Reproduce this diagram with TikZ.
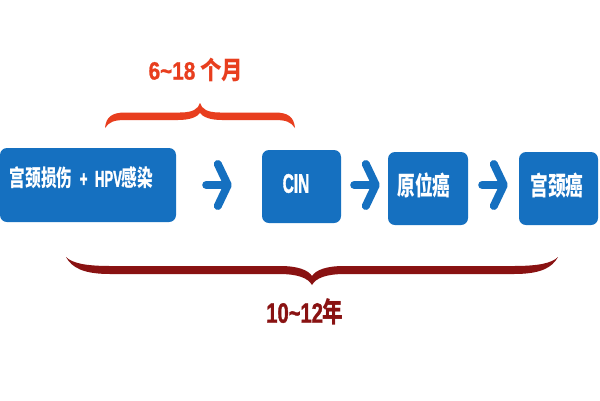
\documentclass[tikz,border=0pt]{standalone}
\usepackage{fontspec}
\usetikzlibrary{arrows.meta}
\newfontfamily\cjkA{Noto Sans CJK SC}[FakeStretch=0.68]
\newfontfamily\latA{Liberation Sans}[FakeStretch=0.57,FakeBold=1.2]
\newfontfamily\cjkR{Noto Sans CJK SC}[FakeStretch=0.86]
\newfontfamily\latR{Liberation Sans}[FakeStretch=0.83,FakeBold=1]
\newfontfamily\cjkD{Noto Sans CJK SC}[FakeStretch=0.74]
\newfontfamily\latD{Liberation Sans}[FakeStretch=0.72,FakeBold=1.2]
\definecolor{boxblue}{RGB}{21,112,192}
\definecolor{bracered}{RGB}{232,62,30}
\definecolor{bracedark}{RGB}{137,18,18}
\tikzset{
  box/.style={fill=boxblue, rounded corners=7pt, inner sep=0pt, minimum height=73pt},
  txt/.style={text=white, inner sep=0pt, font=\bfseries},
  flow/.style={boxblue, line width=8pt, line cap=round,
    -{Straight Barb[length=10pt,width=42pt,line width=8pt,round]}},
}
\begin{document}
\begin{tikzpicture}[x=1pt,y=-1pt]
\fill[white] (0,0) rectangle (600,400);
\useasboundingbox (0,0) rectangle (600,400);
% boxes
\node[box, minimum width=176pt, minimum height=74pt] (b1) at (88,185) {};
\node[box, minimum width=79pt] (b2) at (301.5,186.5) {};
\node[box, minimum width=80pt] (b3) at (428,188.5) {};
\node[box, minimum width=79pt] (b4) at (558.5,188.5) {};
% texts
\node[txt] (t1) at (81.5,178) {\fontsize{23}{23}\selectfont\cjkA 宫颈损伤\hspace{7.5pt}{\latA +}\hspace{7.5pt}{\latA HPV}感染};
\node[txt] (t2) at (296,183.5) {\fontsize{27}{27}\selectfont\latA CIN};
\node[txt] (t3) at (424,185) {\fontsize{26}{26}\selectfont\cjkA 原位癌};
\node[txt] (t4) at (557,185.5) {\fontsize{26}{26}\selectfont\cjkA 宫颈癌};
% arrows
\draw[flow, shorten <=30pt, shorten >=30pt] (b1.east) -- (b2.west |- b1.east);
\draw[flow, shorten <=13pt, shorten >=8pt] (b2.east |- b1.east) -- (b3.west |- b1.east);
\draw[flow, shorten <=14pt, shorten >=11pt] (b3.east |- b1.east) -- (b4.west |- b1.east);
% red brace
\fill[bracered] (105,128) .. controls (106,117) and (112,112.5) .. (125,112.5) -- (180,112.5)
  .. controls (193,112.5) and (198,109) .. (200,103)
  .. controls (202,109) and (207,112.5) .. (220,112.5) -- (275,112.5)
  .. controls (288,112.5) and (294,117) .. (295,128)
  .. controls (291,122) and (286,120) .. (275,120) -- (222,120)
  .. controls (210,120) and (203,117) .. (200,113)
  .. controls (197,117) and (190,120) .. (178,120) -- (125,120)
  .. controls (114,120) and (109,122) .. (105,128) -- cycle;
\node[text=bracered, inner sep=0pt, font=\bfseries] (lr) at (196,70)
  {\fontsize{25}{25}\selectfont\latR 6\char`~18\hspace{5pt}{\cjkR 个月}};
% dark brace
\fill[bracedark] (66,257) .. controls (72,263) and (85,266) .. (110,266) -- (280,266)
  .. controls (298,266) and (308,270) .. (312,276)
  .. controls (316,270) and (326,266) .. (344,266) -- (514,266)
  .. controls (539,266) and (552,263) .. (558,257)
  .. controls (552,268) and (540,274) .. (514,274) -- (345,274)
  .. controls (326,274) and (316,278) .. (312,285)
  .. controls (308,278) and (298,274) .. (279,274) -- (110,274)
  .. controls (84,274) and (72,268) .. (66,257) -- cycle;
\node[text=bracedark, inner sep=0pt, font=\bfseries] (ld) at (305,312)
  {\fontsize{28}{28}\selectfont\latD 10\char`~12{\cjkD 年}};
\end{tikzpicture}
\end{document}
